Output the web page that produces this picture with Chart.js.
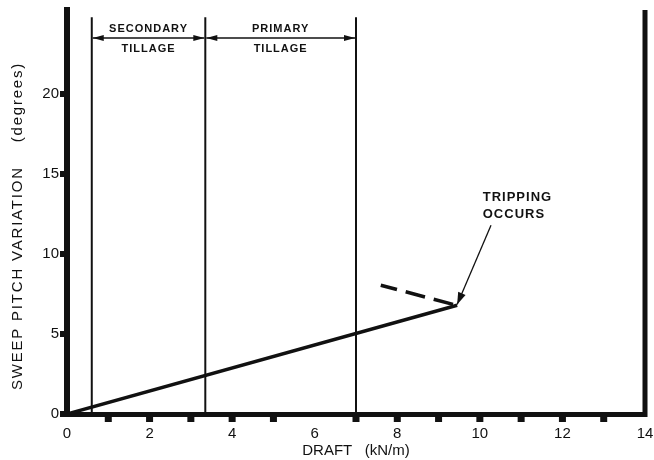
<!DOCTYPE html>
<html>
<head>
<title>Sweep pitch variation vs draft</title>
<script src="https://cdn.jsdelivr.net/npm/chart.js"></script>
<style>
  body { margin: 0; background: #fff; }
  #wrap { width: 654px; height: 460px; }
</style>
</head>
<body>
<div id="wrap"><canvas id="chart" width="654" height="460"></canvas></div>
<script>
// pitch rises with draft until the tripping point
var pitchLine = [{x: 0, y: 0}, {x: 9.45, y: 6.8}];
// dashed part after tripping
var afterTrip = [{x: 9.35, y: 6.85}, {x: 7.6, y: 8.05}];
// tillage zone boundaries (kN/m) and the height they reach
var tillageBounds = [0.6, 3.35, 7.0];
var tillageTop = 24.8;
var zoneArrowY = 23.5;
var zoneLabels = [['SECONDARY', 'TILLAGE'], ['PRIMARY', 'TILLAGE']];
var zoneLabelY = [24.06, 22.81];
// "tripping occurs" note
var noteText = ['TRIPPING', 'OCCURS'];
var noteAt = {x: 10.07, y: [13.53, 12.47]};
var noteArrow = [{x: 10.27, y: 11.8}, {x: 9.45, y: 6.85}];

var xTickLabels = [0, 2, 4, 6, 8, 10, 12, 14];
var xMinorTicks = [1, 2, 3, 4, 5, 7, 8, 9, 10, 11, 12, 13];
var yTickLabels = [0, 5, 10, 15, 20];

var ink = '#111';
var fam = '"Liberation Sans", Arial, Helvetica, sans-serif';

var datasets = [
  {data: pitchLine, showLine: true, borderColor: ink, borderWidth: 3.5, pointRadius: 0},
  {data: afterTrip, showLine: true, borderColor: ink, borderWidth: 3.5, borderDash: [20, 9], pointRadius: 0}
];
tillageBounds.forEach(function(b) {
  datasets.push({data: [{x: b, y: 0}, {x: b, y: tillageTop}], showLine: true,
    borderColor: ink, borderWidth: 2, pointRadius: 0});
});

function arrowHead(ctx, x, y, ang, len, half) {
  ctx.save();
  ctx.translate(x, y);
  ctx.rotate(ang);
  ctx.beginPath();
  ctx.moveTo(0, 0);
  ctx.lineTo(-len, -half);
  ctx.lineTo(-len, half);
  ctx.closePath();
  ctx.fill();
  ctx.restore();
}

var extras = {
  id: 'extras',
  afterDraw: function(chart) {
    var ctx = chart.ctx, a = chart.chartArea;
    var xs = chart.scales.x, ys = chart.scales.y;
    ctx.save();
    ctx.fillStyle = ink;
    ctx.strokeStyle = ink;

    // right frame line
    ctx.lineWidth = 5;
    ctx.beginPath();
    ctx.moveTo(a.right, a.top);
    ctx.lineTo(a.right, a.bottom + 3);
    ctx.stroke();

    // tick squares
    xMinorTicks.forEach(function(v) {
      ctx.fillRect(xs.getPixelForValue(v) - 3.5, a.bottom + 1, 7, 7);
    });
    yTickLabels.forEach(function(v) {
      ctx.fillRect(a.left - 7, ys.getPixelForValue(v) - 3, 6, 6);
    });

    // zone arrows and labels
    ctx.lineWidth = 1.5;
    ctx.textAlign = 'center';
    ctx.textBaseline = 'middle';
    ctx.font = 'bold 11px ' + fam;
    ctx.letterSpacing = '1px';
    var ay = ys.getPixelForValue(zoneArrowY);
    for (var i = 0; i < tillageBounds.length - 1; i++) {
      var x1 = xs.getPixelForValue(tillageBounds[i]) + 1;
      var x2 = xs.getPixelForValue(tillageBounds[i + 1]) - 1;
      ctx.beginPath();
      ctx.moveTo(x1, ay);
      ctx.lineTo(x2, ay);
      ctx.stroke();
      arrowHead(ctx, x1, ay, Math.PI, 11, 3);
      arrowHead(ctx, x2, ay, 0, 11, 3);
      var cx = (x1 + x2) / 2;
      ctx.fillText(zoneLabels[i][0], cx, ys.getPixelForValue(zoneLabelY[0]));
      ctx.fillText(zoneLabels[i][1], cx, ys.getPixelForValue(zoneLabelY[1]));
    }

    // tripping note
    ctx.font = 'bold 13px ' + fam;
    ctx.textAlign = 'left';
    noteText.forEach(function(t, k) {
      ctx.fillText(t, xs.getPixelForValue(noteAt.x), ys.getPixelForValue(noteAt.y[k]));
    });
    var tx = xs.getPixelForValue(noteArrow[0].x), ty = ys.getPixelForValue(noteArrow[0].y);
    var hx = xs.getPixelForValue(noteArrow[1].x), hy = ys.getPixelForValue(noteArrow[1].y);
    ctx.lineWidth = 1.3;
    ctx.beginPath();
    ctx.moveTo(tx, ty);
    ctx.lineTo(hx, hy);
    ctx.stroke();
    arrowHead(ctx, hx, hy, Math.atan2(hy - ty, hx - tx), 12, 4);

    // y axis title
    ctx.font = '15px ' + fam;
    ctx.letterSpacing = '1.8px';
    ctx.textAlign = 'center';
    ctx.translate(18, 226);
    ctx.rotate(-Math.PI / 2);
    ctx.fillText('SWEEP PITCH VARIATION    (degrees)', 0, 0);
    ctx.restore();
  }
};

var chart = new Chart(document.getElementById('chart').getContext('2d'), {
  type: 'scatter',
  data: {datasets: datasets},
  plugins: [extras],
  options: {
    responsive: false,
    animation: false,
    layout: {padding: {top: 10, right: 9, left: 0, bottom: 0}},
    plugins: {legend: {display: false}, tooltip: {enabled: false}},
    scales: {
      x: {
        type: 'linear', position: 'bottom', min: 0, max: 14,
        grid: {display: false, drawTicks: false},
        border: {display: true, width: 5, color: ink},
        ticks: {color: ink, font: {size: 15, family: fam}, padding: 11, maxRotation: 0, autoSkip: false},
        afterBuildTicks: function(s) { s.ticks = xTickLabels.map(function(v) { return {value: v}; }); },
        afterFit: function(s) { s.height = 46; s.paddingLeft = 0; s.paddingRight = 0; },
        title: {display: true, text: 'DRAFT   (kN/m)', color: ink,
          font: {size: 15, family: fam}, padding: {top: 0, bottom: 0}}
      },
      y: {
        type: 'linear', min: 0, max: 25.25,
        grid: {display: false, drawTicks: false},
        border: {display: true, width: 6, color: ink},
        ticks: {color: ink, font: {size: 15, family: fam}, padding: 8},
        afterBuildTicks: function(s) { s.ticks = yTickLabels.map(function(v) { return {value: v}; }); },
        afterFit: function(s) { s.width = 67; s.paddingTop = 0; s.paddingBottom = 0; }
      }
    }
  }
});
</script>
</body>
</html>
